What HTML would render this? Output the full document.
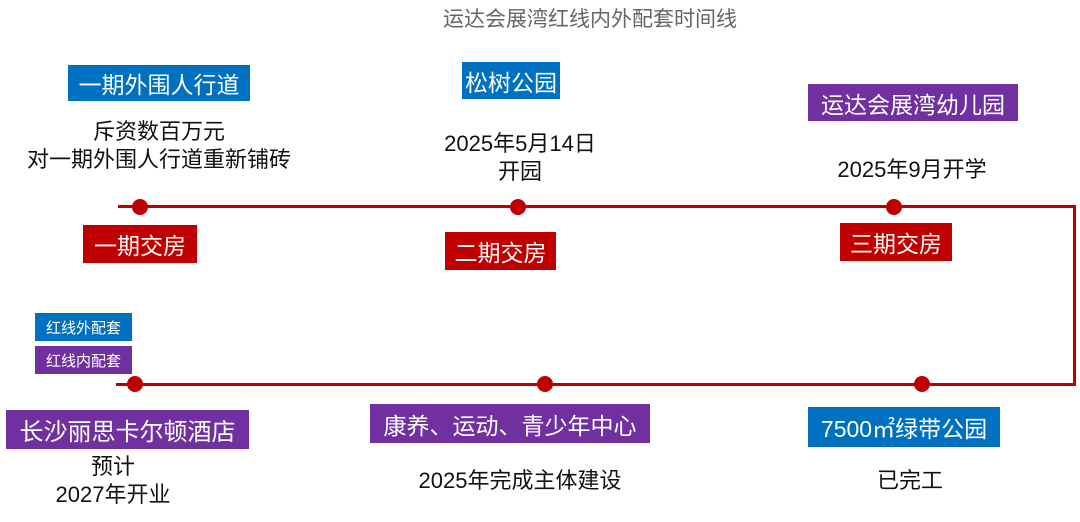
<!DOCTYPE html>
<html><head><meta charset="utf-8"><style>
body{margin:0;width:1080px;height:522px;background:#fff;position:relative;overflow:hidden;font-family:"Liberation Sans","Noto Sans CJK SC",sans-serif}
.a{position:absolute}
.b{position:absolute;color:#fff;display:flex;align-items:center;justify-content:center;font-size:23px;white-space:nowrap}
.blue{background:#0070c0}.pur{background:#7030a0}.red{background:#c00000}
.t{position:absolute;text-align:center;font-size:22px;color:#111;line-height:28px;white-space:nowrap}
.d{position:absolute;width:16px;height:16px;border-radius:50%;background:#c00000}
</style></head><body>
<div class="t" style="left:340px;top:6px;width:500px;color:#666;font-size:21px">运达会展湾红线内外配套时间线</div>
<div class="a" style="left:118px;top:205px;width:958px;height:3px;background:#c00000"></div>
<div class="a" style="left:1073px;top:205px;width:3px;height:181px;background:#c00000"></div>
<div class="a" style="left:116px;top:383px;width:960px;height:3px;background:#c00000"></div>
<div class="d" style="left:132px;top:199px"></div>
<div class="d" style="left:510px;top:199px"></div>
<div class="d" style="left:886px;top:199px"></div>
<div class="d" style="left:127px;top:376px"></div>
<div class="d" style="left:537px;top:376px"></div>
<div class="d" style="left:914px;top:376px"></div>
<div class="b blue" style="left:68px;top:65px;width:182px;height:36px">一期外围人行道</div>
<div class="b blue" style="left:462px;top:62px;width:98px;height:37px">松树公园</div>
<div class="b pur" style="left:808px;top:84px;width:210px;height:37px">运达会展湾幼儿园</div>
<div class="t" style="left:0px;top:118px;width:318px">斥资数百万元<br>对一期外围人行道重新铺砖</div>
<div class="t" style="left:410px;top:130px;width:220px">2025年5月14日<br>开园</div>
<div class="t" style="left:802px;top:156px;width:220px">2025年9月开学</div>
<div class="b red" style="left:83px;top:225px;width:114px;height:38px">一期交房</div>
<div class="b red" style="left:445px;top:232px;width:111px;height:38px">二期交房</div>
<div class="b red" style="left:840px;top:223px;width:112px;height:38px">三期交房</div>
<div class="b blue" style="left:35px;top:313px;width:97px;height:28px;font-size:15px">红线外配套</div>
<div class="b pur" style="left:35px;top:346px;width:97px;height:28px;font-size:15px">红线内配套</div>
<div class="b pur" style="left:6px;top:410px;width:243px;height:39px;font-size:24px">长沙丽思卡尔顿酒店</div>
<div class="b pur" style="left:370px;top:404px;width:280px;height:39px">康养、运动、青少年中心</div>
<div class="b blue" style="left:808px;top:407px;width:192px;height:40px">7500㎡绿带公园</div>
<div class="t" style="left:18px;top:453px;width:190px">预计<br>2027年开业</div>
<div class="t" style="left:390px;top:467px;width:260px">2025年完成主体建设</div>
<div class="t" style="left:860px;top:467px;width:100px">已完工</div>
</body></html>
